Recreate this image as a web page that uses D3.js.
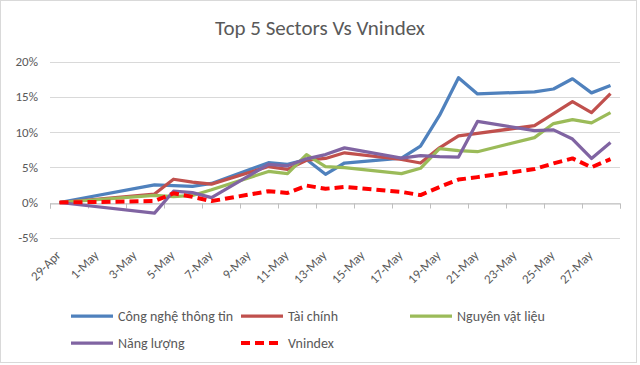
<!DOCTYPE html>
<html>
<head>
<meta charset="utf-8">
<script src="https://cdn.jsdelivr.net/npm/d3@7"></script>
<style>
  html, body { margin: 0; padding: 0; background: #fff; }
  svg text { font-family: Carlito, Calibri, Lato, "Noto Sans", sans-serif; fill: #595959; }
</style>
</head>
<body>
<svg id="chart" width="640" height="365"></svg>
<script>
const dates = ["2021-04-29","2021-05-04","2021-05-05","2021-05-06","2021-05-07",
  "2021-05-10","2021-05-11","2021-05-12","2021-05-13","2021-05-14",
  "2021-05-17","2021-05-18","2021-05-19","2021-05-20","2021-05-21",
  "2021-05-24","2021-05-25","2021-05-26","2021-05-27","2021-05-28"];
const congNghe = [0, 2.5, 2.4, 2.3, 2.7, 5.65, 5.4, 6.1, 4.0, 5.6, 6.3, 8.0, 12.35, 17.7, 15.4, 15.7, 16.1, 17.55, 15.55, 16.6];
const taiChinh = [0, 1.2, 3.3, 2.9, 2.6, 5.1, 4.7, 6.0, 6.25, 7.05, 6.1, 5.6, 7.75, 9.45, 9.8, 10.9, 12.6, 14.3, 12.75, 15.45];
const nguyenVatLieu = [0, 1.0, 0.85, 1.0, 1.8, 4.4, 4.1, 6.8, 5.1, 4.95, 4.1, 4.85, 7.65, 7.35, 7.2, 9.2, 11.2, 11.75, 11.3, 12.75];
const nangLuong = [0, -1.5, 1.6, 1.4, 0.7, 5.4, 5.2, 6.2, 6.8, 7.75, 6.3, 6.65, 6.5, 6.45, 11.5, 10.2, 10.3, 9.0, 6.25, 8.5];
const vnindex = [0, 0.2, 1.3, 0.8, 0.2, 1.6, 1.35, 2.4, 1.95, 2.2, 1.5, 1.05, 2.2, 3.25, 3.6, 4.75, 5.55, 6.25, 5.0, 6.15];
const xTickLabels = ["29-Apr","1-May","3-May","5-May","7-May","9-May","11-May","13-May","15-May","17-May","19-May","21-May","23-May","25-May","27-May"];
const yTicks = [-5, 0, 5, 10, 15, 20];
const seriesNames = ["Công nghệ thông tin","Tài chính","Nguyên vật liệu","Năng lượng","Vnindex"];
const seriesColors = ["#4F81BD","#C0504D","#9BBB59","#8064A2","#FF0000"];
const title = "Top 5 Sectors Vs Vnindex";

const parse = d3.utcParse("%Y-%m-%d");
const labelParse = d3.utcParse("%d-%b-%Y");
const H12 = 12 * 3600 * 1000;
const dateObjs = dates.map(parse);
const labelDates = xTickLabels.map(s => labelParse(s + "-2021"));

const svg = d3.select("#chart");
svg.append("rect").attr("x", 0.5).attr("y", 0.5).attr("width", 636).attr("height", 362)
  .attr("fill", "#fff").attr("stroke", "#d9d9d9");

const x = d3.scaleUtc()
  .domain([new Date(dateObjs[0].getTime() - H12), new Date(dateObjs[dateObjs.length-1].getTime() + H12)])
  .range([50, 620]);
const y = d3.scaleLinear().domain([-5, 20]).range([237.75, 61.5]);

svg.append("text").attr("x", 320).attr("y", 35).attr("text-anchor", "middle")
  .style("font-size", "21px").text(title);

// gridlines
svg.append("g").selectAll("line").data(yTicks).join("line")
  .attr("x1", 50).attr("x2", 620)
  .attr("y1", d => Math.round(y(d)) + 0.5).attr("y2", d => Math.round(y(d)) + 0.5)
  .attr("stroke", "#d9d9d9").attr("stroke-width", 1);

// y axis labels
const yAxis = d3.axisLeft(y).tickValues(yTicks).tickFormat(d => d + "%").tickSize(0).tickPadding(0);
const gy = svg.append("g").attr("transform", "translate(38,0)").call(yAxis);
gy.select(".domain").remove();
gy.selectAll("text").style("font-size", "13px").attr("fill", "#595959")
  .style("font-family", "Carlito, Calibri, Lato, 'Noto Sans', sans-serif");

// x axis at zero
const tickDates = labelDates.map(d => new Date(d.getTime() - H12)).concat([x.domain()[1]]);
const xAxis = d3.axisBottom(x).tickValues(tickDates).tickSize(5).tickFormat("");
const gx = svg.append("g").attr("transform", `translate(0,${Math.round(y(0)) + 0.5})`).call(xAxis);
gx.select(".domain").attr("stroke", "#bfbfbf");
gx.selectAll(".tick line").attr("stroke", "#bfbfbf");

// x labels
svg.append("g").selectAll("text").data(labelDates).join("text")
  .attr("transform", d => `translate(${x(d) + 2},256) rotate(-45)`)
  .attr("text-anchor", "end").style("font-size", "13px")
  .text((d, i) => xTickLabels[i]);

// lines
const allSeries = [congNghe, taiChinh, nguyenVatLieu, nangLuong, vnindex];
const line = d3.line().x((d, i) => x(dateObjs[i])).y(d => y(d));
const order = [0, 1, 2, 3, 4];
svg.append("g").selectAll("path").data(order).join("path")
  .attr("d", i => line(allSeries[i]))
  .attr("fill", "none")
  .attr("stroke", i => seriesColors[i])
  .attr("stroke-width", i => i === 4 ? 4 : 3.25)
  .attr("stroke-dasharray", i => i === 4 ? "9,5" : null)
  .attr("stroke-linejoin", "round");

// legend
const legendPos = [[71, 316], [241, 316], [410, 316], [71, 343], [241, 343]];
const lg = svg.append("g").selectAll("g").data(order).join("g")
  .attr("transform", i => `translate(${legendPos[i][0]},${legendPos[i][1]})`);
lg.append("line").attr("x1", 0).attr("x2", 42).attr("y1", 0).attr("y2", 0)
  .attr("stroke", i => seriesColors[i]).attr("stroke-width", i => i === 4 ? 4 : 3.25)
  .attr("stroke-dasharray", i => i === 4 ? "9,5" : null);
lg.append("text").attr("x", 47).attr("y", 5).style("font-size", "14px")
  .text(i => seriesNames[i]);
</script>
</body>
</html>
